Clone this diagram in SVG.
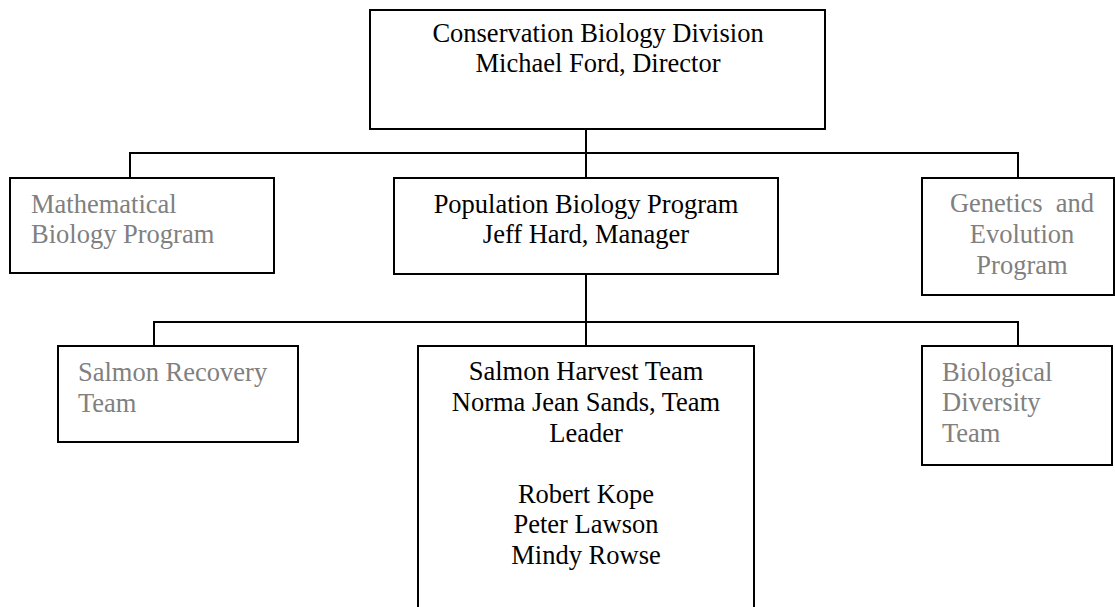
<svg xmlns="http://www.w3.org/2000/svg" width="1115" height="607" viewBox="0 0 1115 607">
<style>
.box{fill:#fff;stroke:#000;stroke-width:2}
.con{fill:none;stroke:#000;stroke-width:2}
text{font-family:"Liberation Serif","Times New Roman",serif;font-size:26.5px;fill:#000}
.g{fill:#808080}
.c{text-anchor:middle}
</style>
<rect width="1115" height="607" fill="#fff"/>
<g id="connectors">
<path class="con" d="M586 129V178M130 178V153H1018V178"/>
<path class="con" d="M586 274V346M154 346V322H1018V346"/>
</g>
<g id="division">
<rect class="box" x="370" y="10" width="455" height="119"/>
<text class="c" x="598" y="42">Conservation Biology Division</text>
<text class="c" x="598" y="72">Michael Ford, Director</text>
</g>
<g id="math">
<rect class="box" x="10" y="178" width="264" height="95"/>
<text class="g" x="31" y="213">Mathematical</text>
<text class="g" x="31" y="243">Biology Program</text>
</g>
<g id="popbio">
<rect class="box" x="394" y="178" width="384" height="96"/>
<text class="c" x="586" y="213">Population Biology Program</text>
<text class="c" x="586" y="243">Jeff Hard, Manager</text>
</g>
<g id="genetics">
<rect class="box" x="922" y="178" width="192" height="117"/>
<text class="g c" x="1022" y="212" xml:space="preserve">Genetics  and</text>
<text class="g c" x="1022" y="243">Evolution</text>
<text class="g c" x="1022" y="274">Program</text>
</g>
<g id="recovery">
<rect class="box" x="58" y="346" width="240" height="96"/>
<text class="g" x="78" y="381">Salmon Recovery</text>
<text class="g" x="78" y="412">Team</text>
</g>
<g id="harvest">
<rect class="box" x="418" y="346" width="336" height="280"/>
<text class="c" x="586" y="380">Salmon Harvest Team</text>
<text class="c" x="586" y="411">Norma Jean Sands, Team</text>
<text class="c" x="586" y="442">Leader</text>
<text class="c" x="586" y="503">Robert Kope</text>
<text class="c" x="586" y="533">Peter Lawson</text>
<text class="c" x="586" y="564">Mindy Rowse</text>
</g>
<g id="diversity">
<rect class="box" x="922" y="346" width="190" height="119"/>
<text class="g" x="942" y="381">Biological</text>
<text class="g" x="942" y="411">Diversity</text>
<text class="g" x="942" y="442">Team</text>
</g>
</svg>
